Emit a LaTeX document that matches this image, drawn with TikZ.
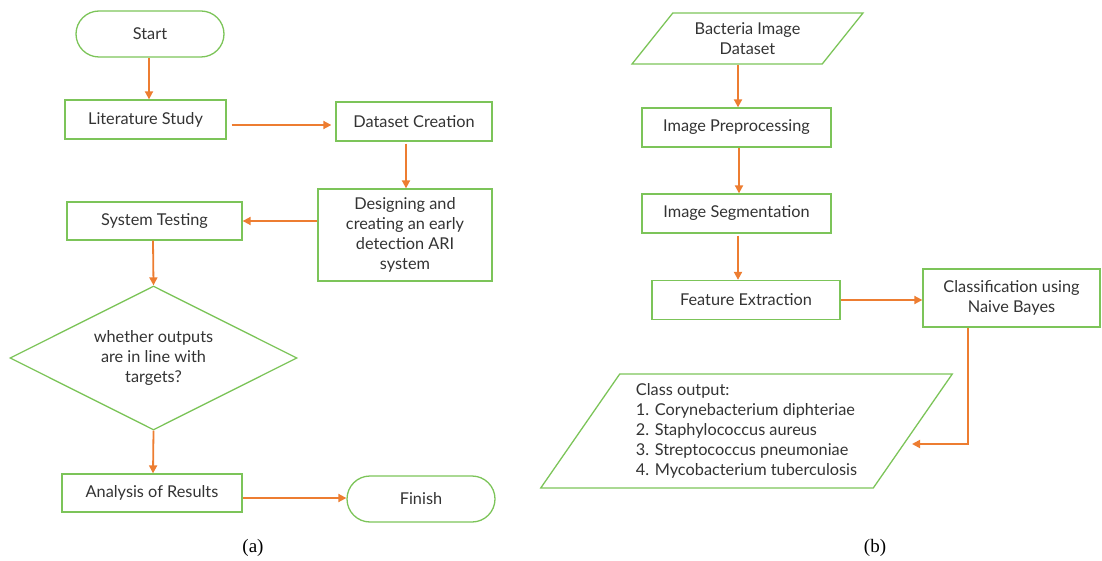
\documentclass[tikz,border=0pt]{standalone}
\usepackage{fontspec}
\setmainfont{Lato}
\newfontfamily\capfont{Liberation Serif}
\usetikzlibrary{arrows.meta,shapes.geometric}
\definecolor{flowgreen}{HTML}{7CC459}
\definecolor{floworange}{HTML}{ED7D31}
\definecolor{flowtext}{HTML}{333333}
\tikzset{
  base/.style={draw=flowgreen, line width=1.3pt, text=flowtext, inner sep=0pt, align=center,
    font=\fontsize{16.3}{20}\selectfont},
  procbox/.style={base, rectangle},
  termbox/.style={base, rectangle, rounded corners=23pt, minimum width=148pt, minimum height=46pt},
  decbox/.style={base, diamond, aspect=2, minimum width=287pt, minimum height=144pt},
  iobox/.style={base, trapezium, trapezium stretches=true},
  arr/.style={draw=floworange, line width=1.8pt, -{Triangle[length=8pt,width=8pt]}},
  caption/.style={font=\capfont\fontsize{19}{22}\selectfont, text=black}
}
\begin{document}
\begin{tikzpicture}[x=1pt,y=-1pt]
\useasboundingbox (0,0) rectangle (1102,561);
% ---------- (a) ----------
\node[termbox] (start) at (150,34) {Start};
\node[procbox, minimum width=161pt, minimum height=39pt] (lit) at (145.5,119.5) {Literature Study};
\node[procbox, minimum width=156pt, minimum height=39pt] (ds) at (414,121.5) {Dataset Creation};
\node[procbox, minimum width=174pt, minimum height=92pt] (des) at (405,235) {Designing and\\creating an early\\detection ARI\\system};
\node[procbox, minimum width=175pt, minimum height=38pt] (st) at (154.5,221) {System Testing};
\node[decbox] (dec) at (153.5,358) {whether outputs\\are in line with\\targets?};
\node[procbox, minimum width=180pt, minimum height=38pt] (ar) at (152,493) {Analysis of Results};
\node[termbox] (fin) at (421,499) {Finish};
\node[caption] (capa) at (253,548) {(a)};

\draw[arr] (start.south -| 149,0) -- (lit.north -| 149,0);
\draw[arr, shorten <=5pt, shorten >=4pt] (lit.east |- 0,125) -- (ds.west |- 0,125);
\draw[arr, shorten <=2pt] (ds.south -| 406,0) -- (des.north -| 406,0);
\draw[arr] (des.west |- 0,221) -- (st.east |- 0,221);
\draw[arr] (st.south -| 153,0) -- (dec.north);
\draw[arr] (dec.south) -- (ar.north -| 153,0);
\draw[arr] (ar.east |- 0,498) -- (fin.west |- 0,498);

% ---------- (b) ----------
\node[iobox, trapezium left angle=48, trapezium right angle=132, minimum width=231pt, minimum height=51pt] (bid) at (747.5,38.5) {Bacteria Image\\Dataset};
\node[procbox, minimum width=189pt, minimum height=39pt] (pre) at (736.5,127.5) {Image Preprocessing};
\node[procbox, minimum width=189pt, minimum height=39pt] (seg) at (736.5,213.5) {Image Segmentation};
\node[procbox, minimum width=188pt, minimum height=39pt] (fe) at (746,300) {Feature Extraction};
\node[procbox, minimum width=177pt, minimum height=58pt] (cls) at (1011.5,298) {Classification using\\Naive Bayes};
\node[iobox, trapezium left angle=54, trapezium right angle=126, minimum width=413pt, minimum height=114pt, align=left] (out) at (746.5,431)
  {Class output:\\1. Corynebacterium diphteriae\\2. Staphylococcus aureus\\3. Streptococcus pneumoniae\\4. Mycobacterium tuberculosis};
\node[caption] (capb) at (875,548) {(b)};
\coordinate (outin) at (912,444);

\draw[arr] (bid.south -| 738,0) -- (pre.north -| 738,0);
\draw[arr] (pre.south -| 739,0) -- (seg.north -| 739,0);
\draw[arr, shorten <=2pt] (seg.south -| 738,0) -- (fe.north -| 738,0);
\draw[arr] (fe.east) -- (cls.west |- fe.east);
\draw[arr] (cls.south -| 968,0) |- (outin);
\end{tikzpicture}
\end{document}
